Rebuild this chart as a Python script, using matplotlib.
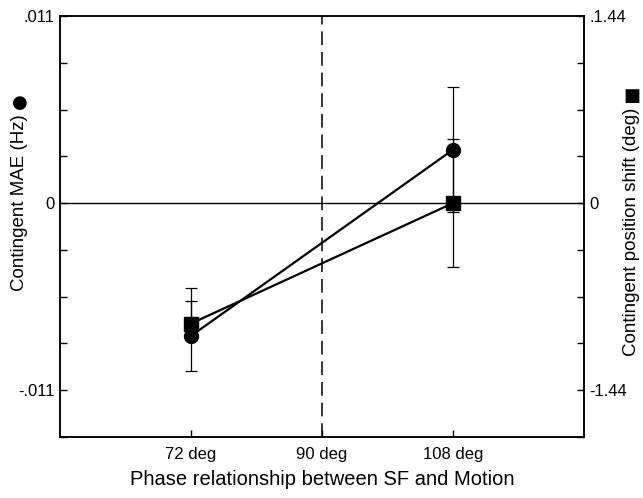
import matplotlib
matplotlib.use("Agg")
import matplotlib.pyplot as plt
import numpy as np

plt.rcParams['font.family'] = ['Liberation Sans', 'DejaVu Sans']

# data
phase = [72, 108]
mae = [-0.00781, 0.00314]          # left axis, circles
mae_err = [0.00204, 0.00369]
shift = [-0.927, 0.0]              # right axis, squares
shift_err_lo = [0.10, 0.49]
shift_err_hi = [0.276, 0.49]

xticks = [72, 90, 108]
xticklabels = ['72 deg', '90 deg', '108 deg']
left_ticks = [0.011, 0.0, -0.011]
left_labels = ['.011', '0', '-.011']
right_ticks = [1.44, 0.0, -1.44]
right_labels = ['.1.44', '0', '-1.44']

fig = plt.figure(figsize=(6.43, 4.98), dpi=100)
ax = fig.add_axes([60/643, 61/498, 524/643, 421/498])
ax2 = ax.twinx()

ax.set_xlim(54, 126)
ax.set_ylim(-0.01375, 0.011)
ax2.set_ylim(-1.8, 1.44)

# reference lines
ax.axhline(0, color='k', lw=1)
ax.axvline(90, color='k', lw=1.1, dashes=(9, 4.5))

# circles (left axis)
ax.errorbar(phase, mae, yerr=mae_err, fmt='none', ecolor='k', elinewidth=0.9,
            capsize=4, capthick=0.9, zorder=3)
ax.plot(phase, mae, 'k-', lw=1.6, marker='o', ms=10, zorder=4)

# squares (right axis)
ax2.errorbar(phase, shift, yerr=[shift_err_lo, shift_err_hi], fmt='none',
             ecolor='k', elinewidth=0.9, capsize=4, capthick=0.9, zorder=3)
ax2.plot(phase, shift, 'k-', lw=1.6, marker='s', ms=9.5, zorder=4)

ax.set_xticks(xticks)
ax.set_xticklabels(xticklabels, fontsize=12)
ax.set_yticks(left_ticks)
ax.set_yticklabels(left_labels, fontsize=12)
ax.set_yticks(np.arange(-0.01375, 0.0111, 0.00275), minor=True)
ax2.set_yticks(right_ticks)
ax2.set_yticklabels(right_labels, fontsize=12)
ax2.set_yticks(np.arange(-1.8, 1.441, 0.36), minor=True)

ax.tick_params(axis='both', which='both', direction='in', length=5, width=1,
               top=False, right=False)
ax.tick_params(axis='x', pad=7)
ax.tick_params(axis='y', pad=4)
ax2.tick_params(axis='y', which='both', direction='in', length=5, width=1, pad=4)

for sp in list(ax.spines.values()) + list(ax2.spines.values()):
    sp.set_linewidth(1.1)

ax.set_xlabel('Phase relationship between SF and Motion', fontsize=14.5, labelpad=6)

lab_l = fig.text(20/643, 1 - 203/498, 'Contingent MAE (Hz)', rotation=90,
                 ha='center', va='center', fontsize=13.5)
ax.annotate('\u25cf', xy=(0.5, 1), xycoords=lab_l, xytext=(0, 2),
            textcoords='offset points', ha='center', va='bottom',
            fontsize=13, family='DejaVu Sans', annotation_clip=False)
lab_r = fig.text(632/643, 1 - 232/498, 'Contingent position shift (deg)', rotation=90,
                 ha='center', va='center', fontsize=13.5)
ax.annotate('\u25a0', xy=(0.5, 1), xycoords=lab_r, xytext=(0, 2),
            textcoords='offset points', ha='center', va='bottom',
            fontsize=13, family='DejaVu Sans', annotation_clip=False)

fig.savefig('out.png', dpi=100)
